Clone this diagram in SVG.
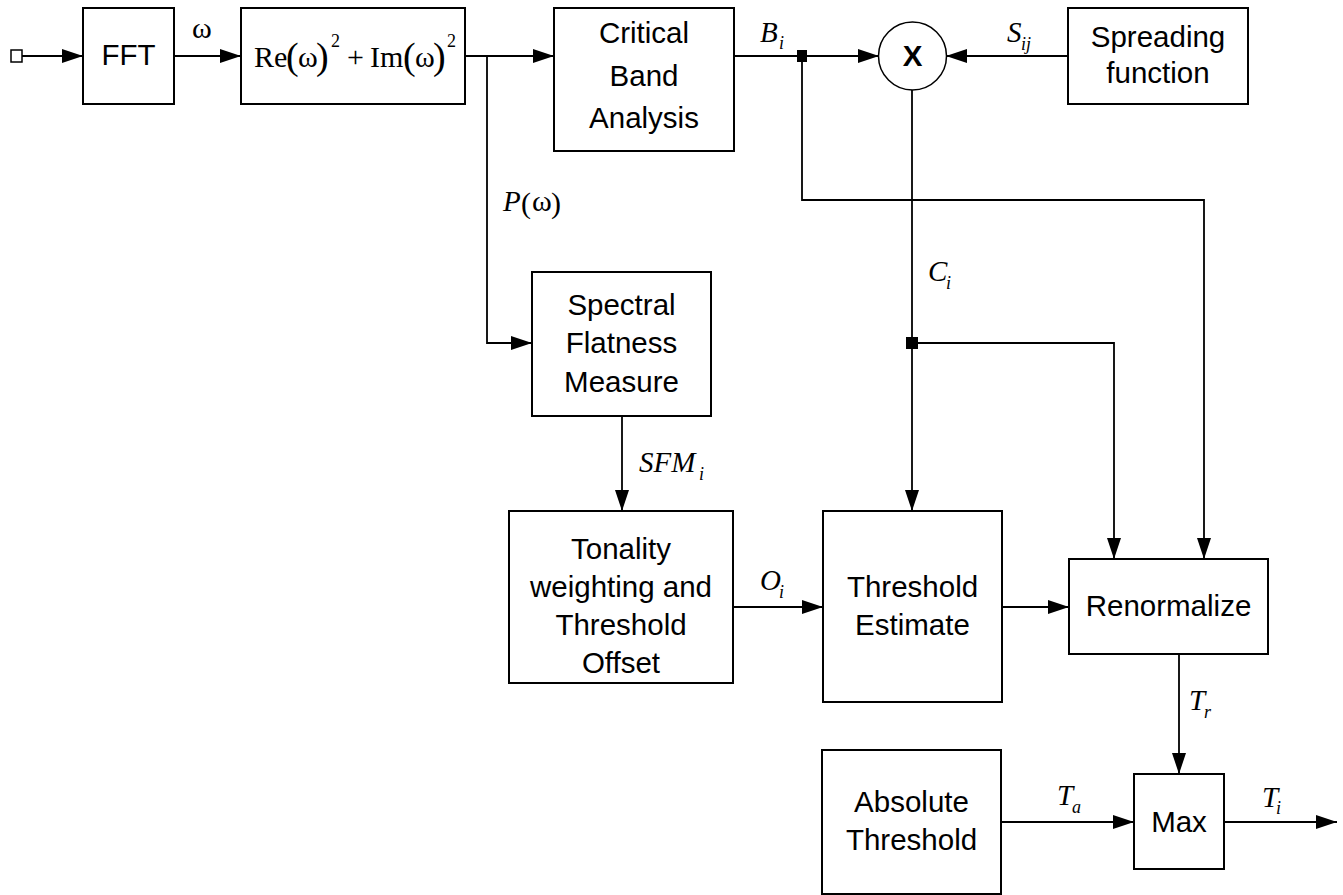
<svg xmlns="http://www.w3.org/2000/svg" width="1343" height="895" viewBox="0 0 1343 895">
<style>
.box{fill:#fff;stroke:#000;stroke-width:2}
.ln{fill:none;stroke:#000;stroke-width:1.8}
.t{font-family:"Liberation Sans",Arial,sans-serif;font-size:29.5px;fill:#000;text-anchor:middle}
.m{font-family:"Liberation Serif","Times New Roman",serif;font-style:italic;font-size:29px;fill:#000}
.s{font-family:"Liberation Serif","Times New Roman",serif;font-style:italic;font-size:18px;fill:#000}
.r{font-family:"Liberation Serif","Times New Roman",serif;font-size:30px;fill:#000}
.dot{fill:#000}
</style>
<defs>
<marker id="ah" markerUnits="userSpaceOnUse" markerWidth="21" markerHeight="14" refX="21" refY="7" orient="auto">
<path d="M0,0 L21,7 L0,14 z" fill="#000"/>
</marker>
</defs>
<rect width="1343" height="895" fill="#fff"/>
<g id="connectors">
<rect x="11" y="50" width="11" height="12" fill="#fff" stroke="#000" stroke-width="1.5"/>
<path class="ln" d="M22,56 H83" marker-end="url(#ah)"/>
<path class="ln" d="M174,56 H241" marker-end="url(#ah)"/>
<path class="ln" d="M465,56 H554" marker-end="url(#ah)"/>
<path class="ln" d="M487,56 V343 H532" marker-end="url(#ah)"/>
<path class="ln" d="M734,56 H879" marker-end="url(#ah)"/>
<path class="ln" d="M1068,56 H946" marker-end="url(#ah)"/>
<path class="ln" d="M802,56 V200 H1204 V559" marker-end="url(#ah)"/>
<path class="ln" d="M912,90 V511" marker-end="url(#ah)"/>
<path class="ln" d="M912,343 H1114 V559" marker-end="url(#ah)"/>
<path class="ln" d="M622,416 V511" marker-end="url(#ah)"/>
<path class="ln" d="M733,607 H823" marker-end="url(#ah)"/>
<path class="ln" d="M1002,607 H1069" marker-end="url(#ah)"/>
<path class="ln" d="M1179,654 V774" marker-end="url(#ah)"/>
<path class="ln" d="M1001,822 H1134" marker-end="url(#ah)"/>
<path class="ln" d="M1224,822 H1337" marker-end="url(#ah)"/>
<rect class="dot" x="797" y="50" width="10" height="12"/>
<rect class="dot" x="906" y="337" width="12" height="12"/>
<text class="r" x="192" y="38" font-style="normal" font-size="26">ω</text>
<text class="m" x="760" y="42">B</text><text class="s" x="779" y="49">i</text>
<text class="m" x="1007" y="42">S</text><text class="s" x="1021" y="50">ij</text>
<text class="m" x="503" y="211">P</text><text class="r" x="521" y="213" font-size="36">(</text><text class="r" x="532" y="211" font-size="29">ω</text><text class="r" x="551" y="213" font-size="36">)</text>
<text class="m" x="928" y="281">C</text><text class="s" x="946" y="289">i</text>
<text class="m" x="639" y="472">SFM</text><text class="s" x="699" y="480">i</text>
<text class="m" x="760" y="590">O</text><text class="s" x="779" y="598">i</text>
<text class="m" x="1189" y="710">T</text><text class="s" x="1204" y="718">r</text>
<text class="m" x="1057" y="805">T</text><text class="s" x="1072" y="813">a</text>
<text class="m" x="1262" y="807">T</text><text class="s" x="1276" y="814">i</text>
</g>
<g id="fft">
<rect class="box" x="83" y="8" width="91" height="96"/>
<text class="t" x="128.5" y="65">FFT</text>
</g>
<g id="power">
<rect class="box" x="241" y="8" width="224" height="96"/>
<text class="r" y="67"><tspan x="254">Re</tspan><tspan x="286" font-size="38" dy="2">(</tspan><tspan x="298" dy="-2">ω</tspan><tspan x="316" font-size="38" dy="2">)</tspan><tspan x="331" font-size="18" dy="-22">2</tspan><tspan x="347" dy="20">+</tspan><tspan x="370">Im</tspan><tspan x="403" font-size="38" dy="2">(</tspan><tspan x="415" dy="-2">ω</tspan><tspan x="433" font-size="38" dy="2">)</tspan><tspan x="447" font-size="18" dy="-22">2</tspan></text>
</g>
<g id="critical">
<rect class="box" x="554" y="8" width="180" height="143"/>
<text class="t" x="644" y="43">Critical</text>
<text class="t" x="644" y="86">Band</text>
<text class="t" x="644" y="128">Analysis</text>
</g>
<g id="mult">
<circle cx="912.5" cy="56" r="34" fill="#fff" stroke="#000" stroke-width="1.5"/>
<text class="t" x="912.5" y="66" font-weight="bold">X</text>
</g>
<g id="spreading">
<rect class="box" x="1068" y="8" width="180" height="96"/>
<text class="t" x="1158" y="47">Spreading</text>
<text class="t" x="1158" y="83">function</text>
</g>
<g id="sfm">
<rect class="box" x="532" y="272" width="179" height="144"/>
<text class="t" x="621.5" y="315">Spectral</text>
<text class="t" x="621.5" y="353">Flatness</text>
<text class="t" x="621.5" y="392">Measure</text>
</g>
<g id="tonality">
<rect class="box" x="509" y="511" width="224" height="172"/>
<text class="t" x="621" y="559">Tonality</text>
<text class="t" x="621" y="597">weighting and</text>
<text class="t" x="621" y="635">Threshold</text>
<text class="t" x="621" y="673">Offset</text>
</g>
<g id="estimate">
<rect class="box" x="823" y="511" width="179" height="191"/>
<text class="t" x="912.5" y="597">Threshold</text>
<text class="t" x="912.5" y="635">Estimate</text>
</g>
<g id="renormalize">
<rect class="box" x="1069" y="559" width="199" height="95"/>
<text class="t" x="1168.5" y="616">Renormalize</text>
</g>
<g id="absolute">
<rect class="box" x="822" y="750" width="179" height="144"/>
<text class="t" x="911.5" y="812">Absolute</text>
<text class="t" x="911.5" y="850">Threshold</text>
</g>
<g id="max">
<rect class="box" x="1134" y="774" width="90" height="95"/>
<text class="t" x="1179" y="832">Max</text>
</g>
</svg>
